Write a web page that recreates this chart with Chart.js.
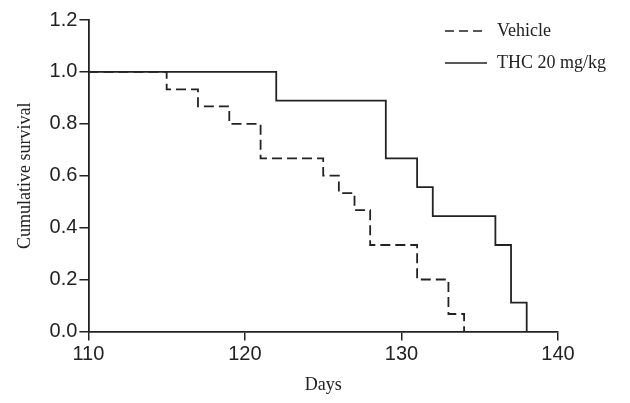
<!DOCTYPE html>
<html>
<head>
<meta charset="utf-8">
<script src="https://cdn.jsdelivr.net/npm/chart.js@4"></script>
<style>
  html, body { margin: 0; padding: 0; background: #fff; }
  #wrap { width: 630px; height: 403px; }
</style>
</head>
<body>
<div id="wrap"><canvas id="chart-1"></canvas></div>
<script>
// Kaplan-Meier steps
const vehicleDays = [110, 115, 117, 119, 121, 125, 126, 127, 128, 131, 133, 134];
const vehicleSurv = [1.0, 0.933, 0.867, 0.8, 0.667, 0.6, 0.533, 0.467, 0.333, 0.2, 0.067, 0.0];
const thcDays = [110, 122, 129, 131, 132, 136, 137, 138];
const thcSurv = [1.0, 0.889, 0.667, 0.556, 0.444, 0.333, 0.111, 0.0];
const yTicks = [0, 0.2, 0.4, 0.6, 0.8, 1.0, 1.2];
const xTicks = [110, 120, 130, 140];

const ink = '#222';
const sans = 'Liberation Sans';
const serif = 'Liberation Serif';

function pts(xs, ys) {
    return xs.map((x, i) => ({ x: x, y: ys[i] }));
}

// legend drawn at the top right, short line sample + serif label
const cornerLegend = {
    id: 'cornerLegend',
    afterDraw(chart) {
        const c = chart.ctx;
        const items = chart.data.datasets;
        const x0 = 445, x1 = 487, tx = 497;
        const ys = [31, 63];
        c.save();
        items.forEach((ds, i) => {
            c.beginPath();
            c.strokeStyle = ds.borderColor;
            c.lineWidth = 1.5;
            c.setLineDash(ds.borderDash ? [9, 5] : []);
            c.moveTo(x0, ys[i]);
            c.lineTo(x1, ys[i]);
            c.stroke();
            c.setLineDash([]);
            c.fillStyle = ink;
            c.font = '18px "' + serif + '"';
            c.textBaseline = 'middle';
            c.fillText(ds.label, tx, ys[i]);
        });
        c.restore();
    }
};

const ctx = document.getElementById('chart-1').getContext('2d');
const chart_1 = new Chart(ctx, {
    type: 'line',
    data: {
        datasets: [
            {
                label: 'Vehicle',
                data: pts(vehicleDays, vehicleSurv),
                borderColor: ink,
                borderWidth: 1.8,
                borderDash: [10, 5],
                stepped: true,
                pointRadius: 0,
                fill: false
            },
            {
                label: 'THC 20 mg/kg',
                data: pts(thcDays, thcSurv),
                borderColor: ink,
                borderWidth: 1.8,
                stepped: true,
                pointRadius: 0,
                fill: false
            }
        ]
    },
    options: {
        responsive: true,
        maintainAspectRatio: false,
        animation: false,
        layout: { padding: { top: 20, right: 72, left: 10, bottom: 3 } },
        plugins: {
            legend: { display: false },
            tooltip: { enabled: false }
        },
        scales: {
            x: {
                type: 'linear',
                min: 110,
                max: 140,
                afterBuildTicks: (axis) => { axis.ticks = xTicks.map(v => ({ value: v })); },
                grid: { drawOnChartArea: false, drawTicks: true, tickLength: 9, color: ink, lineWidth: 1.5 },
                border: { color: ink, width: 1.8 },
                ticks: { color: ink, font: { family: sans, size: 20 }, padding: 2, maxRotation: 0 },
                title: { display: true, text: 'Days', color: ink, font: { family: serif, size: 18 }, padding: { top: 6 } }
            },
            y: {
                min: 0,
                max: 1.2,
                afterBuildTicks: (axis) => { axis.ticks = yTicks.map(v => ({ value: v })); },
                grid: { drawOnChartArea: false, drawTicks: true, tickLength: 9, color: ink, lineWidth: 1.5 },
                border: { color: ink, width: 1.8 },
                ticks: { color: ink, font: { family: sans, size: 20 }, padding: 2, callback: (v) => Number(v).toFixed(1) },
                title: { display: true, text: 'Cumulative survival', color: ink, font: { family: serif, size: 18 }, padding: { bottom: 12 } }
            }
        }
    },
    plugins: [cornerLegend]
});
</script>
</body>
</html>
